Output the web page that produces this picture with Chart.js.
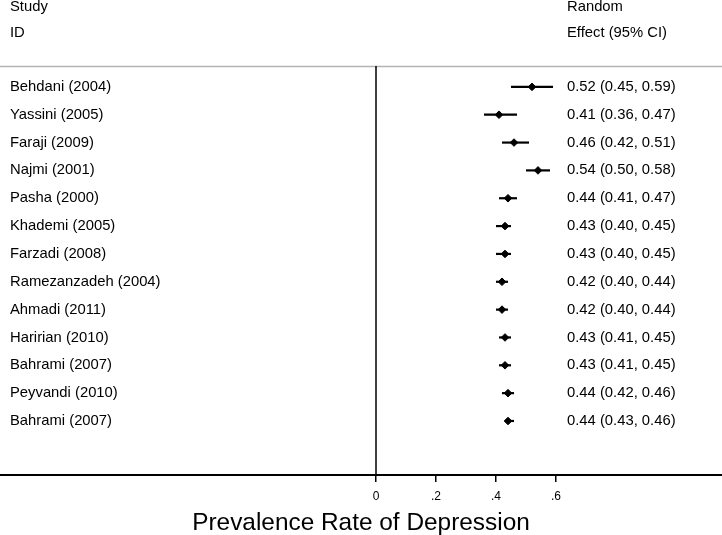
<!DOCTYPE html>
<html>
<head>
<meta charset="utf-8">
<script src="https://cdn.jsdelivr.net/npm/chart.js@4.4.1/dist/chart.umd.min.js"></script>
<style>
  html, body { margin: 0; padding: 0; background: #fff; }
  #wrap { width: 722px; height: 535px; }
</style>
</head>
<body>
<div id="wrap"><canvas id="forest" width="722" height="535"></canvas></div>
<script>
  // Study labels, top to bottom
  const studies = [
    'Behdani (2004)', 'Yassini (2005)', 'Faraji (2009)', 'Najmi (2001)',
    'Pasha (2000)', 'Khademi (2005)', 'Farzadi (2008)', 'Ramezanzadeh (2004)',
    'Ahmadi (2011)', 'Haririan (2010)', 'Bahrami (2007)', 'Peyvandi (2010)',
    'Bahrami (2007)'
  ];
  const effect = [0.52, 0.41, 0.46, 0.54, 0.44, 0.43, 0.43, 0.42, 0.42, 0.43, 0.43, 0.44, 0.44];
  const lower  = [0.45, 0.36, 0.42, 0.50, 0.41, 0.40, 0.40, 0.40, 0.40, 0.41, 0.41, 0.42, 0.43];
  const upper  = [0.59, 0.47, 0.51, 0.58, 0.47, 0.45, 0.45, 0.44, 0.44, 0.45, 0.45, 0.46, 0.46];
  const xTicks = [0, 0.2, 0.4, 0.6];

  const FONT = 'Arial, "Liberation Sans", Helvetica, sans-serif';

  const fmt = v => v.toFixed(2);

  // one line dataset per confidence interval
  const ciSets = studies.map((s, i) => ({
    type: 'line',
    label: s,
    data: [{ x: lower[i], y: i }, { x: upper[i], y: i }],
    borderColor: '#000',
    borderWidth: 2.2,
    pointRadius: 0,
    fill: false
  }));

  const pointSet = {
    type: 'scatter',
    label: 'Effect',
    data: effect.map((v, i) => ({ x: v, y: i })),
    pointStyle: 'rectRot',
    pointRadius: 3.8,
    backgroundColor: '#000',
    borderColor: '#000',
    borderWidth: 1
  };

  // draws the text columns, header rule and the null line
  const forestText = {
    id: 'forestText',
    beforeDatasetsDraw(chart) {
      const { ctx, chartArea, scales } = chart;
      const x0 = scales.x.getPixelForValue(0);
      ctx.save();
      ctx.strokeStyle = '#b4b4b4';
      ctx.lineWidth = 1.5;
      ctx.beginPath();
      ctx.moveTo(chartArea.left, chartArea.top + 0.5);
      ctx.lineTo(chartArea.right, chartArea.top + 0.5);
      ctx.stroke();

      ctx.strokeStyle = '#000';
      ctx.lineWidth = 1.5;
      ctx.beginPath();
      ctx.moveTo(x0, chartArea.top);
      ctx.lineTo(x0, chartArea.bottom);
      ctx.stroke();
      ctx.restore();
    },
    afterDraw(chart) {
      const { ctx, chartArea, scales } = chart;
      const leftX = chartArea.left + 10;
      const rightX = chartArea.left + 567;
      ctx.save();
      ctx.fillStyle = '#000';
      ctx.font = '14.8px ' + FONT;
      ctx.textBaseline = 'middle';
      ctx.textAlign = 'left';

      ctx.fillText('Study', leftX, chartArea.top - 59);
      ctx.fillText('ID', leftX, chartArea.top - 33);
      ctx.fillText('Random', rightX, chartArea.top - 59);
      ctx.fillText('Effect (95% CI)', rightX, chartArea.top - 33);

      studies.forEach((s, i) => {
        const y = scales.y.getPixelForValue(i);
        ctx.fillText(s, leftX, y);
        ctx.fillText(fmt(effect[i]) + ' (' + fmt(lower[i]) + ', ' + fmt(upper[i]) + ')', rightX, y);
      });
      ctx.restore();
    }
  };

  new Chart(document.getElementById('forest'), {
    data: { datasets: [...ciSets, pointSet] },
    options: {
      responsive: false,
      animation: false,
      layout: { autoPadding: false, padding: { top: 66, left: 0, right: 0, bottom: 0 } },
      plugins: {
        legend: { display: false },
        tooltip: { enabled: false }
      },
      scales: {
        x: {
          type: 'linear',
          min: -1.2533,
          max: 1.1533,
          afterBuildTicks: axis => { axis.ticks = xTicks.map(v => ({ value: v })); },
          ticks: {
            color: '#000',
            font: { family: FONT, size: 12 },
            padding: 7.1,
            maxRotation: 0,
            callback: v => v === 0 ? '0' : String(+v.toFixed(1)).replace('0.', '.')
          },
          grid: {
            drawOnChartArea: false,
            drawTicks: true,
            tickLength: 7,
            color: '#000',
            lineWidth: 1.5
          },
          border: { display: true, color: '#000', width: 2 },
          title: {
            display: true,
            text: 'Prevalence Rate of Depression',
            color: '#000',
            font: { family: FONT, size: 24.4, lineHeight: 1 },
            padding: { top: 0, bottom: 0 }
          }
        },
        y: {
          type: 'linear',
          reverse: true,
          min: -0.75,
          max: 13.94,
          display: false
        }
      }
    },
    plugins: [forestText]
  });
</script>
</body>
</html>
